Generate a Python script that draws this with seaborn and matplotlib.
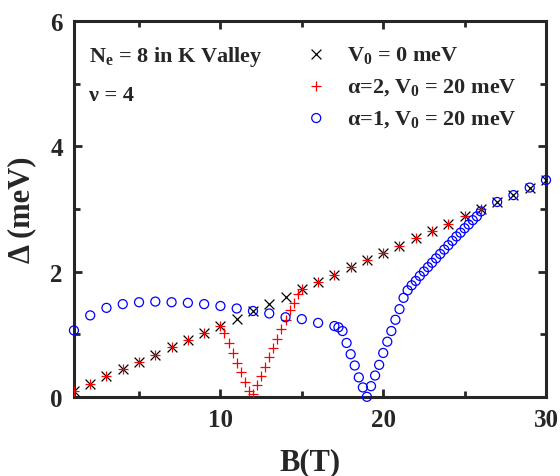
import matplotlib
matplotlib.use("Agg")
import matplotlib.pyplot as plt
import pandas as pd
import seaborn as sns

# V0 = 0 meV
b_v0 = [1, 2, 3, 4, 5, 6, 7, 8, 9, 10, 11, 12, 13, 14, 15, 16, 17, 18, 19, 20,
        21, 22, 23, 24, 25, 26, 27, 28, 29, 30]
d_v0 = [0.10, 0.21, 0.33, 0.45, 0.55, 0.66, 0.79, 0.91, 1.02, 1.13, 1.25, 1.37,
        1.48, 1.59, 1.72, 1.83, 1.95, 2.07, 2.18, 2.29, 2.41, 2.53, 2.65, 2.76,
        2.88, 3.00, 3.11, 3.22, 3.34, 3.46]

# alpha=2, V0 = 20 meV
b_a2 = [1, 2, 3, 4, 5, 6, 7, 8, 9, 10,
        10.25, 10.5, 10.75, 11.0, 11.25, 11.5, 11.75, 12.0, 12.25, 12.5, 12.75,
        13.0, 13.25, 13.5, 13.75, 14.0, 14.25, 14.5, 14.75,
        15, 16, 17, 18, 19, 20, 21, 22, 23, 24, 25, 26]
d_a2 = [0.10, 0.21, 0.33, 0.45, 0.55, 0.66, 0.79, 0.91, 1.02, 1.13,
        1.02, 0.86, 0.70, 0.54, 0.40, 0.24, 0.09, 0.05, 0.19, 0.33, 0.48,
        0.63, 0.78, 0.93, 1.08, 1.22, 1.38, 1.50, 1.64,
        1.72, 1.83, 1.95, 2.07, 2.18, 2.29, 2.41, 2.53, 2.65, 2.76, 2.88, 3.00]

# alpha=1, V0 = 20 meV
b_a1 = [1, 2, 3, 4, 5, 6, 7, 8, 9, 10, 11, 12, 13, 14, 15, 16,
        17.0, 17.25, 17.5, 17.75, 18.0, 18.25, 18.5, 18.75, 19.0, 19.25, 19.5,
        19.75, 20.0, 20.25, 20.5, 20.75, 21.0, 21.25, 21.5, 21.75, 22.0, 22.25,
        22.5, 22.75, 23.0, 23.25, 23.5, 23.75, 24.0, 24.25, 24.5, 24.75, 25.0,
        25.25, 25.5, 25.75, 26.0, 27, 28, 29, 30]
d_a1 = [1.06, 1.30, 1.42, 1.48, 1.51, 1.52, 1.51, 1.50, 1.48, 1.45, 1.41, 1.37,
        1.33, 1.27, 1.24, 1.18,
        1.13, 1.11, 1.05, 0.86, 0.68, 0.50, 0.31, 0.15, 0.00, 0.17, 0.34,
        0.51, 0.70, 0.88, 1.05, 1.23, 1.40, 1.58, 1.70, 1.78, 1.85, 1.93,
        2.00, 2.07, 2.14, 2.21, 2.28, 2.35, 2.42, 2.49, 2.56, 2.62, 2.69,
        2.75, 2.82, 2.88, 2.96, 3.11, 3.22, 3.34, 3.46]

labels = ["V$_0$ = 0 meV", "α=2, V$_0$ = 20 meV", "α=1, V$_0$ = 20 meV"]

sns.set_style("ticks")
plt.rcParams["font.family"] = ["Liberation Serif", "DejaVu Serif"]
plt.rcParams["font.weight"] = "bold"
plt.rcParams["mathtext.fontset"] = "custom"
plt.rcParams["mathtext.rm"] = "Liberation Serif:bold"
plt.rcParams["mathtext.it"] = "Liberation Serif:bold"
plt.rcParams["mathtext.bf"] = "Liberation Serif:bold"

fig = plt.figure(figsize=(5.6, 4.77), dpi=100)
ax = fig.add_axes([0.132, 0.166, 0.843, 0.788])

sns.scatterplot(x=b_v0, y=d_v0, marker="x", color="black", s=50,
                linewidth=0.9, label=labels[0], ax=ax, zorder=3)
sns.scatterplot(x=b_a2, y=d_a2, marker="+", color="red", s=45,
                linewidth=0.9, label=labels[1], ax=ax, zorder=4)
sns.scatterplot(x=b_a1, y=d_a1, marker="o", color="blue", facecolor="none",
                edgecolor="blue", s=42, linewidth=0.9, label=labels[2], ax=ax,
                zorder=5, clip_on=False)

ax.set_xlim(1, 30)
ax.set_ylim(0, 6)
ax.set_xticks([10, 20, 30])
ax.set_xticks([5, 15, 25], minor=True)
ax.set_yticks([0, 2, 4, 6])
ax.set_yticks([1, 3, 5], minor=True)
ax.tick_params(which="both", direction="in", top=True, right=True, width=2)
ax.tick_params(which="major", length=6, labelsize=18, pad=8)
ax.tick_params(which="minor", length=4)
for lab in ax.get_xticklabels() + ax.get_yticklabels():
    lab.set_fontweight("bold")
for sp in ax.spines.values():
    sp.set_linewidth(2.2)

ax.set_xlabel("B(T)", fontsize=22, fontweight="bold", labelpad=12)
ax.set_ylabel("Δ (meV)", fontsize=22, fontweight="bold", labelpad=10)

ax.text(0.032, 0.907, "N$_\\mathrm{e}$ = 8 in K Valley", transform=ax.transAxes,
        fontsize=16, fontweight="bold", va="center", ha="left")
ax.text(0.032, 0.803, "ν = 4", transform=ax.transAxes,
        fontsize=16, fontweight="bold", va="center", ha="left")

ax.legend(loc="upper left", bbox_to_anchor=(294 / 560, 1 - 34 / 477),
          bbox_transform=fig.transFigure, frameon=False, borderpad=0,
          handlelength=1.0, handletextpad=0.9, labelspacing=0.5,
          prop={"size": 16, "weight": "bold"})

fig.savefig("out.png", dpi=100)
